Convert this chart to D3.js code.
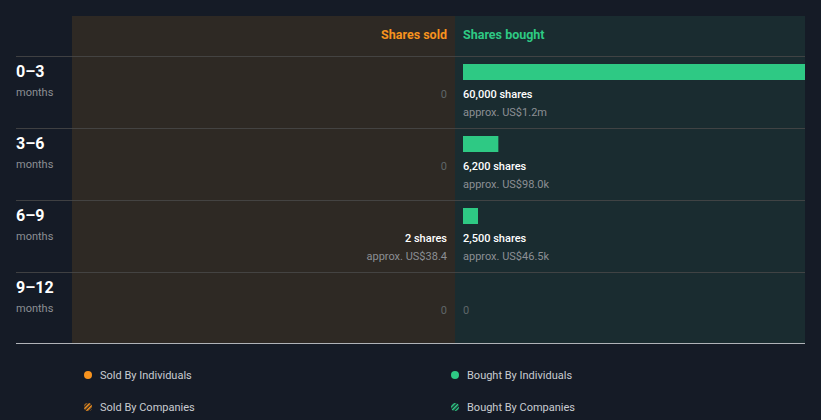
<!DOCTYPE html>
<html><head><meta charset="utf-8">
<script src="https://cdn.jsdelivr.net/npm/d3@7"></script>
<style>
html,body{margin:0;padding:0;background:#151b26;}
svg{display:block;font-family:Roboto,"Noto Sans",sans-serif;}
</style></head>
<body><svg id="c" width="821" height="420"></svg>
<script>
const periods = ["0–3","3–6","6–9","9–12"];
const periodUnit = "months";
const soldShares = [0, 0, 2, 0];
const soldValue = [null, null, "US$38.4", null];
const boughtShares = [60000, 6200, 2500, 0];
const boughtValue = ["US$1.2m", "US$98.0k", "US$46.5k", null];
const legendItems = ["Sold By Individuals","Bought By Individuals","Sold By Companies","Bought By Companies"];

(function(){
const svg = d3.select("#c");
const pLeft = 72, pMid = 455, pRight = 805, pTop = 16, headerH = 40, rowH = 72;
const pBottom = pTop + headerH + rowH * periods.length - 1;
const orange = "#f7931e", green = "#2ec984";

const y = d3.scaleBand().domain(periods).range([pTop + headerH, pTop + headerH + rowH * periods.length]);
const maxV = d3.max(boughtShares.concat(soldShares));
const xb = d3.scaleLinear().domain([0, maxV]).range([0, pRight - 463]);
const xs = d3.scaleLinear().domain([0, maxV]).range([0, 447 - pLeft - 8]);

svg.append("rect").attr("x", pLeft).attr("y", pTop).attr("width", pMid - pLeft).attr("height", pBottom - pTop).attr("fill", "#2e2924");
svg.append("rect").attr("x", pMid).attr("y", pTop).attr("width", pRight - pMid).attr("height", pBottom - pTop).attr("fill", "#1a2c30");

svg.append("text").attr("x", 447).attr("y", pTop + 23).attr("text-anchor", "end").attr("fill", orange)
  .attr("font-size", 12.5).attr("font-weight", 700).text("Shares sold");
svg.append("text").attr("x", 463).attr("y", pTop + 23).attr("fill", green)
  .attr("font-size", 12.5).attr("font-weight", 700).text("Shares bought");

const fmt = d3.format(",");
periods.forEach((p, i) => {
  const y0 = y(p);
  svg.append("line").attr("x1", 16).attr("x2", pRight).attr("y1", y0 + 0.5).attr("y2", y0 + 0.5)
    .attr("stroke", "#4a4a4a").attr("stroke-opacity", 0.8);
  svg.append("text").attr("x", 16).attr("y", y0 + 21).attr("fill", "#fff").attr("font-size", 16).attr("font-weight", 700).text(p);
  svg.append("text").attr("x", 16).attr("y", y0 + 40).attr("fill", "#8c8f94").attr("font-size", 11).text(periodUnit);

  const b = boughtShares[i];
  if (b > 0) {
    svg.append("rect").attr("x", 463).attr("y", y0 + 8).attr("width", Math.max(xb(b), 15)).attr("height", 16).attr("fill", green);
    svg.append("text").attr("x", 463).attr("y", y0 + 42).attr("fill", "#fff").attr("font-size", 11).attr("font-weight", 500).text(fmt(b) + " shares");
    svg.append("text").attr("x", 463).attr("y", y0 + 60).attr("fill", "#8c8f94").attr("font-size", 11).text("approx. " + boughtValue[i]);
  } else {
    svg.append("text").attr("x", 463).attr("y", y0 + 42).attr("fill", "#5f6669").attr("font-size", 11).text("0");
  }
  const s = soldShares[i];
  if (s > 0) {
    svg.append("rect").attr("x", 447 - xs(s)).attr("y", y0 + 8).attr("width", xs(s)).attr("height", 16).attr("fill", orange);
    svg.append("text").attr("x", 447).attr("y", y0 + 42).attr("text-anchor", "end").attr("fill", "#fff").attr("font-size", 11).attr("font-weight", 500).text(fmt(s) + " shares");
    svg.append("text").attr("x", 447).attr("y", y0 + 60).attr("text-anchor", "end").attr("fill", "#8c8f94").attr("font-size", 11).text("approx. " + soldValue[i]);
  } else {
    svg.append("text").attr("x", 447).attr("y", y0 + 42).attr("text-anchor", "end").attr("fill", "#5f6669").attr("font-size", 11).text("0");
  }
});

svg.append("line").attr("x1", 16).attr("x2", pRight).attr("y1", pBottom + 0.5).attr("y2", pBottom + 0.5)
  .attr("stroke", "#b0b3b8").attr("stroke-width", 1);

const defs = svg.append("defs");
[["po", orange], ["pg", green]].forEach(([id, c]) => {
  const pt = defs.append("pattern").attr("id", id).attr("patternUnits", "userSpaceOnUse")
    .attr("width", 3).attr("height", 3).attr("patternTransform", "rotate(45)");
  pt.append("rect").attr("width", 1.6).attr("height", 3).attr("fill", c);
});

const lx = [88, 455], ly = [375, 407];
legendItems.forEach((t, i) => {
  const cx = lx[i % 2], cy = ly[Math.floor(i / 2)];
  const col = t.startsWith("Sold") ? orange : green;
  const company = t.includes("Companies");
  svg.append("circle").attr("cx", cx).attr("cy", cy).attr("r", 4)
    .attr("fill", company ? (col === orange ? "url(#po)" : "url(#pg)") : col);
  svg.append("text").attr("x", cx + 12).attr("y", cy + 4).attr("fill", "#c9ccd1").attr("font-size", 11).text(t);
});
})();
</script></body></html>
